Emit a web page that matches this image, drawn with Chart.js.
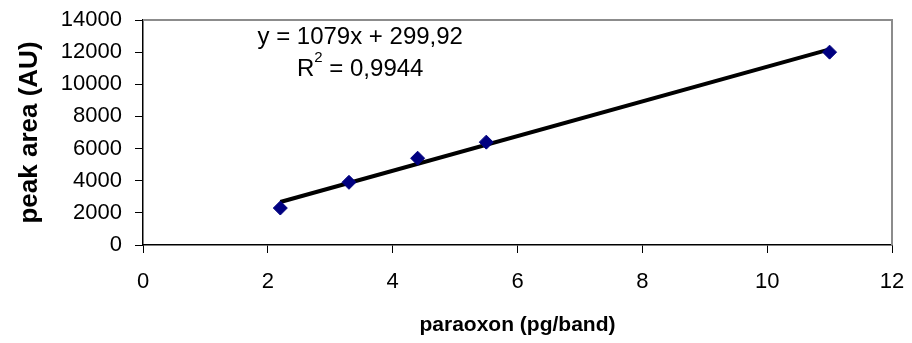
<!DOCTYPE html>
<html>
<head>
<meta charset="utf-8">
<script src="https://cdn.jsdelivr.net/npm/chart.js@4/dist/chart.umd.min.js"></script>
<style>
html,body{margin:0;padding:0;background:#fff;}
#wrap{width:912px;height:343px;position:relative;}
</style>
</head>
<body>
<div id="wrap"><canvas id="c" width="912" height="343"></canvas></div>
<script>
// Data
const concentrations = [2.2, 3.3, 4.4, 5.5, 11];
const peakAreas = [2300, 3900, 5400, 6400, 12000];
const slope = 1079;
const intercept = 299.92;
const equationLabel = 'y = 1079x + 299,92';
const r2Label = '0,9944';
const xTicks = [0, 2, 4, 6, 8, 10, 12];
const yTicks = [0, 2000, 4000, 6000, 8000, 10000, 12000, 14000];

const FONT = "'Liberation Sans', Arial, sans-serif";

const trendX = [concentrations[0], concentrations[concentrations.length - 1]];
const trend = trendX.map(x => ({x: x, y: slope * x + intercept}));
const points = concentrations.map((x, i) => ({x: x, y: peakAreas[i]}));

const frame = {
  id: 'frame',
  beforeDatasetsDraw(chart) {
    const a = chart.chartArea, ctx = chart.ctx;
    ctx.save();
    ctx.strokeStyle = '#8c8c8c';
    ctx.lineWidth = 2;
    ctx.beginPath();
    ctx.moveTo(a.left, a.top);
    ctx.lineTo(a.right, a.top);
    ctx.lineTo(a.right, a.bottom);
    ctx.stroke();
    ctx.restore();
  },
  afterDraw(chart) {
    const a = chart.chartArea, ctx = chart.ctx;
    ctx.save();
    ctx.fillStyle = '#000';
    ctx.textBaseline = 'middle';
    ctx.textAlign = 'center';
    const cx = a.left + (a.right - a.left) * 0.29;
    ctx.font = '24px ' + FONT;
    ctx.fillText(equationLabel, cx, a.top + 17);
    // R² line
    const base = 'R';
    const rest = ' = ' + r2Label;
    const wR = ctx.measureText(base).width;
    const wRest = ctx.measureText(rest).width;
    ctx.font = '15px ' + FONT;
    const wSup = ctx.measureText('2').width;
    const total = wR + wSup + wRest;
    let x = cx - total / 2;
    const y = a.top + 49;
    ctx.textAlign = 'left';
    ctx.font = '24px ' + FONT;
    ctx.fillText(base, x, y);
    x += wR;
    ctx.font = '15px ' + FONT;
    ctx.fillText('2', x, y - 11);
    x += wSup;
    ctx.font = '24px ' + FONT;
    ctx.fillText(rest, x, y);
    ctx.restore();
  }
};

new Chart(document.getElementById('c'), {
  type: 'scatter',
  data: {
    datasets: [
      {
        label: 'trend',
        type: 'line',
        data: trend,
        borderColor: '#000',
        borderWidth: 4,
        pointRadius: 0,
        fill: false,
        order: 2
      },
      {
        label: 'data',
        data: points,
        pointStyle: 'rectRot',
        pointRadius: 7,
        backgroundColor: '#000080',
        borderColor: '#000080',
        borderWidth: 1,
        order: 1
      }
    ]
  },
  plugins: [frame],
  options: {
    responsive: false,
    animation: false,
    layout: {padding: {left: 0, right: 20, top: 20, bottom: 0}},
    plugins: {legend: {display: false}, tooltip: {enabled: false}},
    scales: {
      x: {
        type: 'linear',
        min: 0, max: 12,
        afterBuildTicks: s => { s.ticks = xTicks.map(v => ({value: v})); },
        afterFit: s => { s.height = 98; s.paddingLeft = 0; s.paddingRight = 0; },
        grid: {drawOnChartArea: false, color: '#000', tickLength: 8, tickWidth: 1},
        border: {color: '#000', width: 1.5},
        ticks: {color: '#000', font: {family: FONT, size: 22}, padding: 16, maxRotation: 0,
                callback: v => String(v)},
        title: {display: true, text: 'paraoxon (pg/band)', color: '#000',
                font: {family: FONT, size: 21, weight: 'bold'}, padding: {top: 0, bottom: 5}}
      },
      y: {
        type: 'linear',
        min: 0, max: 14000,
        afterBuildTicks: s => { s.ticks = yTicks.map(v => ({value: v})); },
        afterFit: s => { s.width = 143; s.paddingTop = 0; s.paddingBottom = 0; },
        grid: {drawOnChartArea: false, color: '#000', tickLength: 8, tickWidth: 1},
        border: {color: '#000', width: 1.5},
        ticks: {color: '#000', font: {family: FONT, size: 22}, padding: 13,
                callback: v => String(v)},
        title: {display: true, text: 'peak area (AU)', color: '#000',
                font: {family: FONT, size: 26, weight: 'bold'}, padding: {top: 14, bottom: 0}}
      }
    }
  }
});
</script>
</body>
</html>
